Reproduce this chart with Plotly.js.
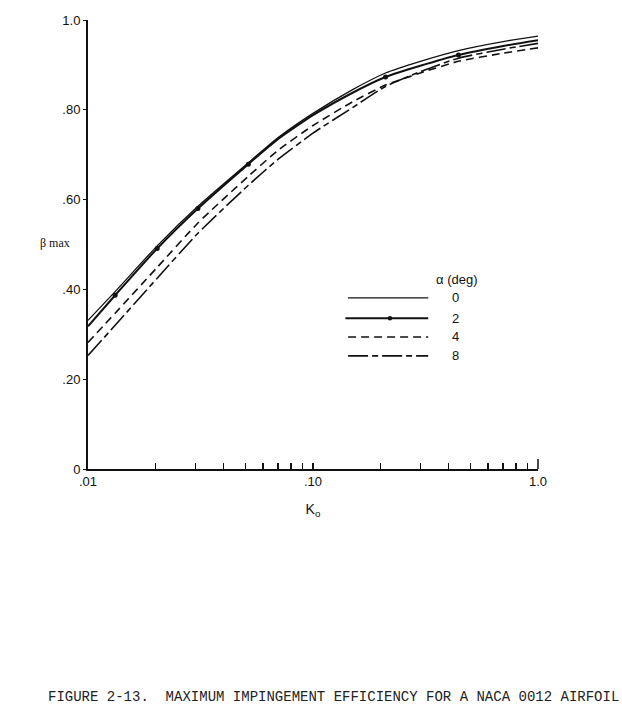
<!DOCTYPE html>
<html>
<head>
<meta charset="utf-8">
<script src="https://cdn.plot.ly/plotly-3.0.1.min.js"></script>
<style>
  html, body { margin: 0; padding: 0; background: #fff; }
  #plot { width: 622px; height: 716px; }
</style>
</head>
<body>
<div id="plot"></div>
<script>
// K0 values
var kO = [0.01, 0.0132, 0.0203, 0.0308, 0.0516, 0.07, 0.1, 0.15, 0.21, 0.3, 0.443, 0.7, 1.0];

// beta max for each angle of attack
var beta0 = [0.331, 0.395, 0.497, 0.585, 0.682, 0.738, 0.792, 0.845, 0.882, 0.908, 0.932, 0.952, 0.964];
var beta2 = [0.318, 0.387, 0.491, 0.580, 0.679, 0.735, 0.788, 0.838, 0.873, 0.898, 0.922, 0.942, 0.955];
var beta4 = [0.282, 0.347, 0.449, 0.548, 0.652, 0.710, 0.765, 0.818, 0.855, 0.882, 0.908, 0.926, 0.938];
var beta8 = [0.253, 0.320, 0.425, 0.525, 0.632, 0.690, 0.748, 0.805, 0.852, 0.885, 0.915, 0.935, 0.948];

// the dots drawn along the alpha = 2 curve
var dotK = [0.0132, 0.0203, 0.0308, 0.0516, 0.21, 0.443];
var dotBeta = [0.387, 0.491, 0.580, 0.679, 0.873, 0.922];

var alphaLabels = ['0', '2', '4', '8'];
var yTickVals = [0, 0.2, 0.4, 0.6, 0.8, 1.0];
var yTickText = ['0', '.20', '.40', '.60', '.80', '1.0'];
// every decade digit gets a tick, only the decades get a label
var xTickVals = [0.01, 0.02, 0.03, 0.04, 0.05, 0.06, 0.07, 0.08, 0.09,
                 0.1, 0.2, 0.3, 0.4, 0.5, 0.6, 0.7, 0.8, 0.9, 1.0];
var xTickText = ['.01', '', '', '', '', '', '', '', '',
                 '.10', '', '', '', '', '', '', '', '', '1.0'];

var ink = '#111';
var lineStyles = [
  {color: ink, width: 1.3, dash: 'solid'},
  {color: ink, width: 2, dash: 'solid'},
  {color: ink, width: 1.6, dash: '8px,5px'},
  {color: ink, width: 1.6, dash: '20px,4px,6px,4px'}
];
var series = [beta0, beta2, beta4, beta8];

var traces = series.map(function(ys, i) {
  return {
    x: kO,
    y: ys,
    type: 'scatter',
    mode: 'lines',
    line: Object.assign({shape: 'spline', smoothing: 0.5}, lineStyles[i]),
    name: alphaLabels[i],
    showlegend: false,
    hoverinfo: 'skip'
  };
});
traces.push({
  x: dotK,
  y: dotBeta,
  type: 'scatter',
  mode: 'markers',
  marker: {color: ink, size: 5},
  showlegend: false,
  hoverinfo: 'skip'
});

// hand-made key, like the printed figure
var shapes = [];
var annotations = [];
var keyRows = [0.381, 0.336, 0.294, 0.252];
alphaLabels.forEach(function(lab, i) {
  shapes.push({
    type: 'line', xref: 'paper', yref: 'paper',
    x0: i === 1 ? 0.572 : 0.578, x1: 0.756, y0: keyRows[i], y1: keyRows[i],
    line: lineStyles[i]
  });
  annotations.push({
    xref: 'paper', yref: 'paper', x: 0.816, y: keyRows[i],
    text: lab, showarrow: false, xanchor: 'center', yanchor: 'middle',
    font: {family: 'Liberation Sans, Arial', size: 13, color: ink}
  });
});
shapes.push({
  type: 'circle', xref: 'paper', yref: 'paper',
  x0: 0.666, x1: 0.676, y0: keyRows[1] - 0.005, y1: keyRows[1] + 0.005,
  fillcolor: ink, line: {color: ink, width: 0}
});
// taller end tick at 1.0
shapes.push({
  type: 'line', xref: 'paper', yref: 'paper',
  x0: 1, x1: 1, y0: 0, y1: 0.022,
  line: {color: ink, width: 1.5}
});
annotations.push({
  xref: 'paper', yref: 'paper', x: 0.818, y: 0.423,
  text: 'α (deg)', showarrow: false, xanchor: 'center', yanchor: 'middle',
  font: {family: 'Liberation Sans, Arial', size: 13, color: ink}
});
annotations.push({
  xref: 'paper', yref: 'paper', x: -0.073, y: 0.503,
  text: 'β max', showarrow: false, xanchor: 'center', yanchor: 'middle',
  font: {family: 'Liberation Serif, serif', size: 12, color: ink}
});
annotations.push({
  xref: 'paper', yref: 'paper', x: -0.093, y: -0.508,
  text: 'FIGURE 2-13.  MAXIMUM IMPINGEMENT EFFICIENCY FOR A NACA 0012 AIRFOIL',
  showarrow: false, xanchor: 'left', yanchor: 'middle',
  font: {family: 'Liberation Mono, Courier New, monospace', size: 14, color: '#222'}
});

var layout = {
  width: 622,
  height: 716,
  margin: {l: 88, r: 84, t: 20, b: 247},
  paper_bgcolor: '#fff',
  plot_bgcolor: '#fff',
  showlegend: false,
  font: {family: 'Liberation Sans, Arial', size: 13, color: ink},
  xaxis: {
    type: 'log',
    range: [-2, 0],
    tickmode: 'array',
    tickvals: xTickVals,
    ticktext: xTickText,
    ticks: 'inside',
    ticklen: 6,
    tickwidth: 1.5,
    tickcolor: ink,
    showline: true,
    linecolor: ink,
    linewidth: 1.5,
    showgrid: false,
    zeroline: false,
    tickfont: {size: 13},
    title: {text: 'K<sub>o</sub>', font: {size: 14}, standoff: 16}
  },
  yaxis: {
    range: [0, 1.0],
    tickmode: 'array',
    tickvals: yTickVals,
    ticktext: yTickText,
    ticks: 'outside',
    ticklen: 3,
    tickwidth: 1,
    tickcolor: ink,
    showline: true,
    linecolor: ink,
    linewidth: 2,
    showgrid: false,
    zeroline: false,
    tickfont: {size: 13}
  },
  shapes: shapes,
  annotations: annotations
};

Plotly.newPlot('plot', traces, layout, {displayModeBar: false, staticPlot: true});
</script>
</body>
</html>
